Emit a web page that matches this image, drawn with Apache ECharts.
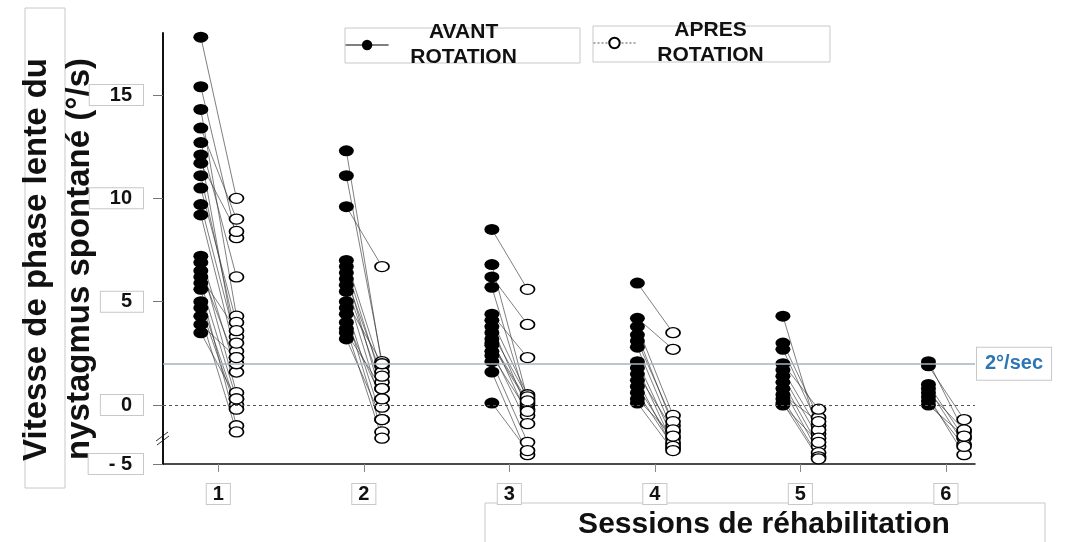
<!DOCTYPE html>
<html>
<head>
<meta charset="utf-8">
<script src="https://cdn.jsdelivr.net/npm/echarts@6/dist/echarts.min.js"></script>
<style>
html, body { margin: 0; padding: 0; background: #fff; }
#chart { width: 1078px; height: 542px; }
</style>
</head>
<body>
<div id="chart"></div>
<script>
// sessions de réhabilitation
const sessions = [1, 2, 3, 4, 5, 6]
const sessionLabels = ['1', '2', '3', '4', '5', '6']

// vitesse (°/s) avant / après rotation, une paire par patient
const avant1 = [17.8, 15.4, 14.3, 13.4, 12.7, 12.1, 11.7, 11.1, 10.5, 9.7, 9.2, 7.2, 6.9, 6.5, 6.2, 5.9, 5.6, 5.0, 4.7, 4.3, 3.9, 3.5]
const apres1 = [10.0, 8.1, 4.3, 9.0, 6.2, 2.6, 8.4, 3.3, 4.0, 3.0, 2.3, 1.6, 0.6, 2.0, 3.6, 0.3, -1.0, 0.0, -0.2, -1.3, 2.3, 0.3]
const avant2 = [12.3, 11.1, 9.6, 7.0, 6.7, 6.4, 6.1, 5.8, 5.5, 5.0, 4.7, 4.4, 4.0, 3.7, 3.5, 3.2]
const apres2 = [1.9, 2.1, 6.7, 1.6, 1.1, 0.3, 1.4, 0.8, -0.1, 2.0, -0.7, -1.3, 0.3, -1.6, 0.8, -0.7]
const avant3 = [8.5, 6.8, 6.2, 5.7, 4.4, 4.1, 3.8, 3.5, 3.2, 2.9, 2.6, 2.4, 2.1, 1.6, 0.1, 3.0]
const apres3 = [5.6, 0.3, 3.9, 0.0, 2.3, 0.5, -0.2, 0.4, -0.5, 0.1, -0.9, -0.3, -1.8, -2.4, -2.2, 0.2]
const avant4 = [5.9, 4.2, 3.8, 3.4, 3.1, 2.8, 2.1, 1.8, 1.5, 1.2, 0.9, 0.6, 0.3, 0.1]
const apres4 = [3.5, 2.7, -0.5, -1.0, -0.8, -1.3, -1.6, -1.9, -1.2, -2.1, -1.8, -2.0, -1.5, -2.2]
const avant5 = [4.3, 3.0, 2.7, 2.0, 1.7, 1.4, 1.1, 0.8, 0.5, 0.3, 0.1, 0.0]
const apres5 = [-1.4, -0.6, -1.0, -0.2, -1.2, -1.6, -2.0, -2.3, -0.8, -2.5, -2.6, -1.8]
const avant6 = [2.1, 1.9, 1.0, 0.8, 0.6, 0.4, 0.2, 0.0]
const apres6 = [-1.3, -0.7, -1.6, -1.9, -1.2, -2.4, -2.0, -1.5]

// axe y coupé : le bas de l'axe est étiqueté -5
const yTickValues = [-2.85, 0, 5, 10, 15]
const yTickLabels = ['- 5', '0', '5', '10', '15']
const seuil = 2

const avant = [avant1, avant2, avant3, avant4, avant5, avant6]
const apres = [apres1, apres2, apres3, apres4, apres5, apres6]

const font = "'Liberation Sans', Arial, sans-serif"

const avantPts = []
const apresPts = []
const pairs = []
sessions.forEach((s, i) => {
  avant[i].forEach((v, j) => {
    const a = [s - 0.12, v]
    const b = [s + 0.125, apres[i][j]]
    avantPts.push(a)
    apresPts.push(b)
    pairs.push({ coords: [a, b] })
  })
})

const chart = echarts.init(document.getElementById('chart'))

const legendText = (l1, l2) => ({
  formatter: () => '{a|' + l1 + '}\n{a|' + l2 + '}',
  textStyle: {
    rich: {
      a: { width: 140, align: 'center', fontSize: 21, fontWeight: 'bold', lineHeight: 25, color: '#111', fontFamily: font }
    }
  }
})

chart.setOption({
  animation: false,
  backgroundColor: '#fff',
  grid: { left: 163, right: 103, top: 33, bottom: 78, outerBoundsMode: 'none' },
  legend: [
    Object.assign({
      data: ['AVANT ROTATION'],
      left: 345, top: 22, padding: 0,
      itemWidth: 43, itemHeight: 13,
      selectedMode: false,
      lineStyle: { color: '#000', width: 1.2, opacity: 1, type: 'solid' }
    }, legendText('AVANT', 'ROTATION')),
    Object.assign({
      data: ['APRES ROTATION'],
      left: 593, top: 20, padding: 0,
      itemWidth: 42, itemHeight: 13,
      selectedMode: false,
      lineStyle: { color: '#555', width: 1, opacity: 1, type: [2, 2] }
    }, legendText('APRES', 'ROTATION'))
  ],
  xAxis: {
    type: 'value',
    min: 0.62,
    max: 6.2,
    splitLine: { show: false },
    axisLine: { onZero: false, lineStyle: { color: '#111', width: 1.5 } },
    axisTick: { customValues: sessions, length: 8, lineStyle: { color: '#888' } },
    axisLabel: {
      customValues: sessions,
      formatter: v => sessionLabels[sessions.indexOf(v)],
      margin: 20,
      fontSize: 20, fontWeight: 'bold', color: '#111', fontFamily: font,
      borderColor: '#c8c8c8', borderWidth: 1, padding: [0, 6], backgroundColor: '#fff'
    }
  },
  yAxis: {
    type: 'value',
    min: -2.85,
    max: 18,
    splitLine: { show: false },
    axisLine: { show: true, onZero: false, lineStyle: { color: '#111', width: 2 } },
    axisTick: { show: true, customValues: yTickValues, length: 10, lineStyle: { color: '#777' } },
    axisLabel: {
      customValues: yTickValues,
      formatter: v => yTickLabels[yTickValues.indexOf(v)],
      margin: 20,
      fontSize: 20, fontWeight: 'bold', color: '#111', fontFamily: font,
      borderColor: '#c8c8c8', borderWidth: 1, padding: [0, 11, 0, 20], backgroundColor: '#fff'
    }
  },
  series: [
    {
      name: 'liaisons',
      type: 'lines',
      coordinateSystem: 'cartesian2d',
      silent: true,
      z: 1,
      lineStyle: { color: '#333', width: 0.7, opacity: 0.9 },
      data: pairs
    },
    {
      name: 'AVANT ROTATION',
      type: 'line',
      clip: false,
      z: 3,
      symbol: 'circle',
      symbolSize: [15, 11],
      showAllSymbol: true,
      lineStyle: { opacity: 0 },
      itemStyle: { color: '#000' },
      data: avantPts,
      markLine: {
        silent: true,
        symbol: ['none', 'none'],
        data: [
          {
            yAxis: seuil,
            lineStyle: { color: '#a8b2c0', width: 1.5, type: 'solid' },
            label: {
              show: true, position: 'end', distance: 2,
              formatter: '2°/sec',
              color: '#2e75b6', fontSize: 20, fontWeight: 'bold', fontFamily: font,
              backgroundColor: '#fff', borderColor: '#c8c8c8', borderWidth: 1, padding: [6, 8]
            }
          },
          {
            yAxis: 0,
            lineStyle: { color: '#555', width: 1, type: [3, 3] },
            label: { show: false }
          }
        ]
      }
    },
    {
      name: 'APRES ROTATION',
      type: 'line',
      clip: false,
      z: 4,
      symbol: 'circle',
      symbolSize: [14, 10],
      showAllSymbol: true,
      lineStyle: { opacity: 0 },
      itemStyle: { color: '#fff', borderColor: '#000', borderWidth: 1.5 },
      data: apresPts
    }
  ],
  graphic: [
    // cadres des légendes et des titres
    { type: 'rect', z: -1, shape: { x: 345, y: 28, width: 235, height: 35 }, style: { fill: 'none', stroke: '#c8c8c8' } },
    { type: 'rect', z: -1, shape: { x: 593, y: 26, width: 237, height: 36 }, style: { fill: 'none', stroke: '#c8c8c8' } },
    { type: 'rect', z: -1, shape: { x: 25, y: 8, width: 40, height: 480 }, style: { fill: 'none', stroke: '#c8c8c8' } },
    { type: 'rect', z: -1, shape: { x: 485, y: 503, width: 560, height: 45 }, style: { fill: 'none', stroke: '#c8c8c8' } },
    {
      type: 'text', x: 15, y: 58, rotation: Math.PI / 2,
      style: {
        text: 'Vitesse de phase lente du\nnystagmus spontané (°/s)',
        align: 'right', verticalAlign: 'top',
        font: 'bold 33px ' + font, lineHeight: 43, fill: '#111'
      }
    },
    {
      type: 'text', x: 764, y: 525,
      style: {
        text: 'Sessions de réhabilitation',
        align: 'center', verticalAlign: 'middle',
        font: 'bold 30px ' + font, fill: '#111'
      }
    },
    // coupure de l'axe
    { type: 'line', shape: { x1: 156, y1: 441, x2: 168, y2: 432 }, style: { stroke: '#333', lineWidth: 1 } },
    { type: 'line', shape: { x1: 157, y1: 445, x2: 169, y2: 436 }, style: { stroke: '#333', lineWidth: 1 } }
  ]
})
</script>
</body>
</html>
